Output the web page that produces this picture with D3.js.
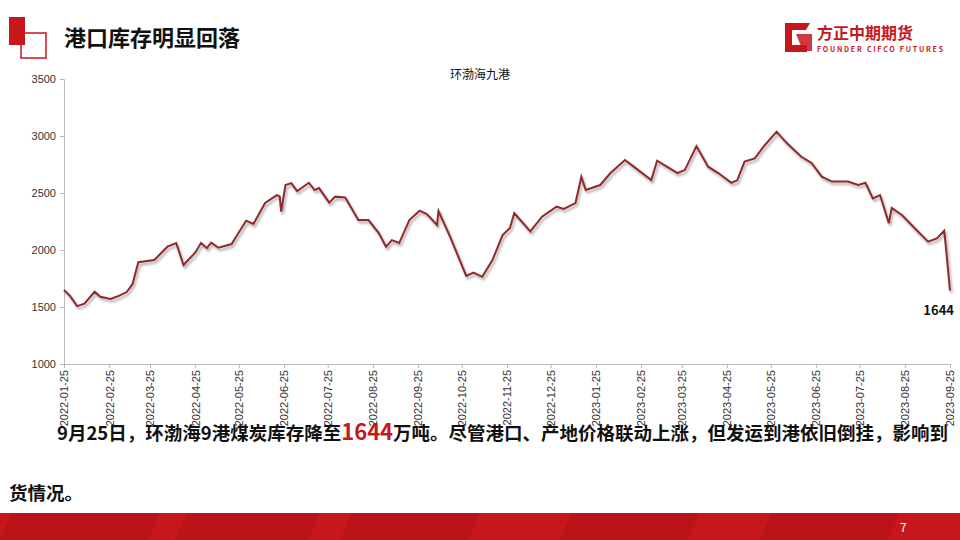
<!DOCTYPE html>
<html lang="zh">
<head>
<meta charset="UTF-8">
<title>港口库存明显回落</title>
<script src="https://cdnjs.cloudflare.com/ajax/libs/d3/7.8.5/d3.min.js"></script>
<style>
  body { margin: 0; background: #fff; }
  svg { display: block; font-family: "Noto Sans CJK SC", "Noto Sans", sans-serif; }
</style>
</head>
<body>
<svg id="chart" width="960" height="540"></svg>
<script>
// 环渤海九港库存（万吨），读图估计
var dates = ["2022-01-25","2022-01-29","2022-02-03","2022-02-08","2022-02-15","2022-02-19","2022-02-26","2022-03-04","2022-03-09","2022-03-13","2022-03-17","2022-03-28","2022-04-06","2022-04-12","2022-04-17","2022-04-25","2022-04-29","2022-05-03","2022-05-06","2022-05-11","2022-05-20","2022-05-26","2022-05-30","2022-06-04","2022-06-12","2022-06-20","2022-06-22","2022-06-23","2022-06-26","2022-06-30","2022-07-04","2022-07-12","2022-07-16","2022-07-19","2022-07-26","2022-07-30","2022-08-06","2022-08-15","2022-08-22","2022-08-29","2022-09-03","2022-09-07","2022-09-12","2022-09-19","2022-09-26","2022-10-01","2022-10-08","2022-10-09","2022-10-17","2022-10-28","2022-11-02","2022-11-08","2022-11-15","2022-11-22","2022-11-27","2022-11-30","2022-12-11","2022-12-19","2022-12-29","2023-01-03","2023-01-11","2023-01-15","2023-01-18","2023-01-28","2023-02-04","2023-02-14","2023-02-20","2023-03-04","2023-03-08","2023-03-13","2023-03-22","2023-03-27","2023-04-04","2023-04-12","2023-04-19","2023-04-28","2023-05-02","2023-05-07","2023-05-14","2023-05-21","2023-05-29","2023-06-05","2023-06-15","2023-06-22","2023-06-29","2023-07-06","2023-07-17","2023-07-24","2023-07-29","2023-08-03","2023-08-08","2023-08-14","2023-08-16","2023-08-23","2023-09-02","2023-09-10","2023-09-16","2023-09-21","2023-09-22","2023-09-25"];
var values = [1649,1600,1508,1530,1634,1590,1570,1600,1631,1700,1893,1912,2029,2061,1868,1976,2061,2017,2064,2020,2052,2175,2257,2228,2412,2482,2470,2336,2570,2587,2517,2590,2526,2543,2415,2468,2461,2263,2263,2149,2029,2087,2061,2263,2345,2316,2219,2342,2116,1772,1801,1765,1912,2131,2193,2324,2163,2292,2380,2360,2412,2643,2526,2570,2675,2789,2731,2614,2783,2745,2675,2701,2912,2731,2675,2590,2611,2775,2804,2921,3038,2938,2818,2763,2643,2600,2600,2570,2590,2453,2482,2236,2368,2307,2175,2073,2102,2169,2052,1644];
var tickLabels = ["2022-01-25","2022-02-25","2022-03-25","2022-04-25","2022-05-25","2022-06-25","2022-07-25","2022-08-25","2022-09-25","2022-10-25","2022-11-25","2022-12-25","2023-01-25","2023-02-25","2023-03-25","2023-04-25","2023-05-25","2023-06-25","2023-07-25","2023-08-25","2023-09-25"];
var yTicks = [1000,1500,2000,2500,3000,3500];

var parse = d3.timeParse("%Y-%m-%d");
var data = dates.map(function(d, i) { return {date: parse(d), value: values[i]}; });

var svg = d3.select("#chart");
var red = "#c8161d";

// header
svg.append("path").attr("d", "M21,33 H46 V58 H21 Z").attr("fill", "none").attr("stroke", red).attr("stroke-width", 1.5);
svg.append("rect").attr("x", 9).attr("y", 17).attr("width", 16).attr("height", 28).attr("fill", red);
svg.append("text").attr("x", 64).attr("y", 46).attr("font-size", 22).attr("font-weight", "bold").attr("fill", "#111").text("港口库存明显回落");

// logo
svg.append("path").attr("d", "M785,23 H810 L806,30 H792 V45 H807 V52 H785 Z").attr("fill", red);
svg.append("path").attr("d", "M796,34 H812 V51 L803,51 Z").attr("fill", red).attr("opacity", 0.85);
svg.append("text").attr("x", 817).attr("y", 39).attr("font-size", 16).attr("font-weight", "bold").attr("fill", red).text("方正中期期货");
svg.append("text").attr("x", 817).attr("y", 52).attr("font-size", 7).attr("font-weight", "bold").attr("fill", red).attr("textLength", 126).text("FOUNDER CIFCO FUTURES");

// chart
var x = d3.scaleTime().domain([parse("2022-01-25"), parse("2023-09-25")]).range([64, 950]);
var y = d3.scaleLinear().domain([1000, 3500]).range([364, 79]);

var defs = svg.append("defs");
var f = defs.append("filter").attr("id", "sh").attr("x", "-5%").attr("y", "-5%").attr("width", "110%").attr("height", "120%");
f.append("feDropShadow").attr("dx", 1.5).attr("dy", 2.5).attr("stdDeviation", 1.2).attr("flood-color", "#000").attr("flood-opacity", 0.35);

var yAxis = svg.append("g").attr("transform", "translate(64,0)")
  .call(d3.axisLeft(y).tickValues(yTicks).tickSize(4).tickPadding(4).tickFormat(d3.format("d")));
yAxis.select(".domain").attr("stroke", "#bbb");
yAxis.selectAll(".tick line").attr("stroke", "#bbb");
yAxis.selectAll("text").attr("font-size", 11).attr("fill", "#333").attr("font-family", "Liberation Sans, Arial");

var xAxis = svg.append("g").attr("transform", "translate(0,364)")
  .call(d3.axisBottom(x).tickValues(tickLabels.map(parse)).tickSize(4).tickFormat(d3.timeFormat("%Y-%m-%d")));
xAxis.select(".domain").attr("stroke", "#bbb");
xAxis.selectAll(".tick line").attr("stroke", "#bbb");
xAxis.selectAll("text").attr("font-size", 11).attr("fill", "#333").attr("font-family", "Liberation Sans, Arial")
  .attr("text-anchor", "end").attr("x", -6).attr("y", 0).attr("dy", "0.35em").attr("transform", "rotate(-90)");

svg.append("text").attr("x", 480).attr("y", 79).attr("text-anchor", "middle").attr("font-size", 12).attr("fill", "#111").text("环渤海九港");

svg.append("path").datum(data)
  .attr("d", d3.line().x(function(d) { return x(d.date); }).y(function(d) { return y(d.value); }))
  .attr("fill", "none").attr("stroke", "#8e2a2a").attr("stroke-width", 2).attr("filter", "url(#sh)");

var last = data[data.length - 1];
svg.append("text").attr("x", x(last.date) + 4).attr("y", y(last.value) + 24).attr("text-anchor", "end")
  .attr("font-size", 13).attr("font-weight", "bold").attr("fill", "#111").text(last.value);

// body text
var t = svg.append("text").attr("x", 57).attr("y", 440).attr("font-size", 18.5).attr("font-weight", "bold").attr("fill", "#111");
t.append("tspan").text("9月25日，环渤海9港煤炭库存降至");
t.append("tspan").attr("fill", red).attr("font-size", 22).text("1644");
t.append("tspan").text("万吨。尽管港口、产地价格联动上涨，但发运到港依旧倒挂，影响到");
svg.append("text").attr("x", 9).attr("y", 500).attr("font-size", 18.5).attr("font-weight", "bold").attr("fill", "#111").text("货情况。");

// footer
svg.append("rect").attr("x", 0).attr("y", 513).attr("width", 960).attr("height", 27).attr("fill", red);
[[0, 160], [175, 320], [340, 480], [560, 700], [760, 900]].forEach(function(s) {
  svg.append("path").attr("d", "M" + (s[0] + 12) + ",513 H" + s[1] + " L" + (s[1] - 12) + ",540 H" + s[0] + " Z")
    .attr("fill", "#b3121a").attr("opacity", 0.7);
});
svg.append("text").attr("x", 900).attr("y", 532).attr("font-size", 12).attr("fill", "#fff").text("7");
</script>
</body>
</html>
